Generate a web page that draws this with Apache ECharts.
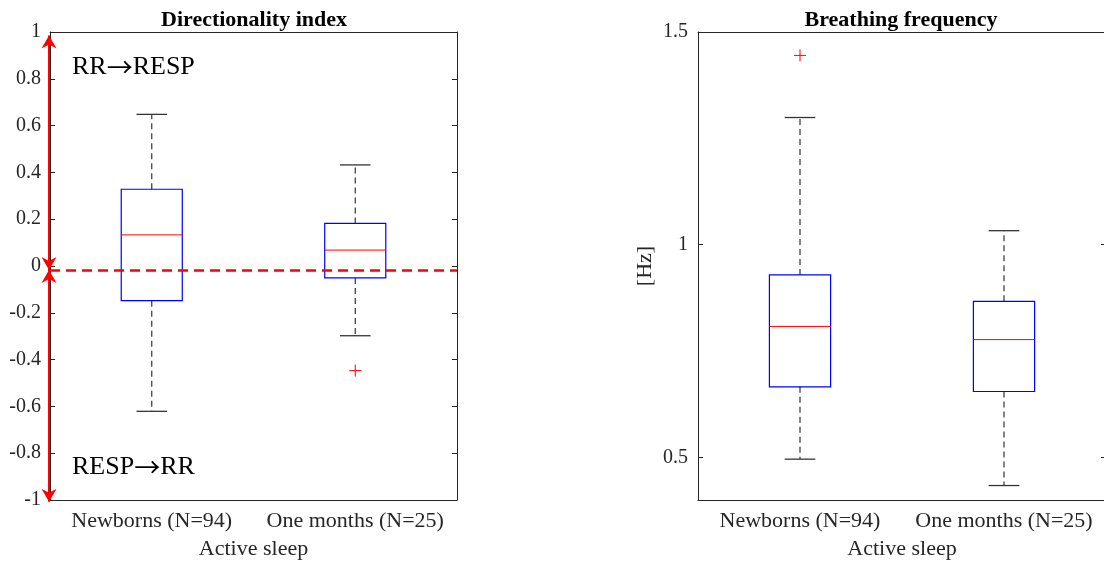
<!DOCTYPE html>
<html>
<head>
<meta charset="utf-8">
<script src="https://cdn.jsdelivr.net/npm/echarts@6/dist/echarts.min.js"></script>
<style>
  html, body { margin: 0; padding: 0; background: #fff; }
  #chart { width: 1104px; height: 562px; }
</style>
</head>
<body>
<div id="chart"></div>
<script>
// Groups on the horizontal axis
const categories = ['Newborns (N=94)', 'One months (N=25)'];

// Directionality index: five-number summaries per group
const diLower  = [-0.621, -0.298];
const diQ1     = [-0.148, -0.051];
const diMedian = [0.133, 0.068];
const diQ3     = [0.328, 0.182];
const diUpper  = [0.648, 0.432];
const diOutliers = [[1, -0.447]];   // [group index, value]

// Reference level and direction arrows of the index
const diThreshold = -0.017;
const diArrowSpans = [[-0.017, 0.985], [-0.017, -1.008]];
const diDirectionTexts = [[0.85, ['RR', 'RESP']], [-0.86, ['RESP', 'RR']]];

// Breathing frequency [Hz]: five-number summaries per group
const bfLower  = [0.496, 0.434];
const bfQ1     = [0.666, 0.655];
const bfMedian = [0.808, 0.777];
const bfQ3     = [0.929, 0.867];
const bfUpper  = [1.299, 1.033];
const bfOutliers = [[0, 1.445]];

// Tick values of the breathing frequency axis
const bfTicks = [0.5, 1, 1.5];

const FONT = "'Liberation Serif', 'Times New Roman', serif";
const AXIS_COLOR = '#262626';
const BOX_COLOR = '#0000ff';
const MEDIAN_COLOR = '#ff0000';
const WHISKER_COLOR = '#333333';

function boxData(lo, q1, med, q3, hi) {
  return categories.map((c, i) => [i, lo[i], q1[i], med[i], q3[i], hi[i]]);
}

function renderBox(params, api) {
  const i = api.value(0);
  const band = api.size([1, 0])[0];
  const pLo = api.coord([i, api.value(1)]);
  const pQ1 = api.coord([i, api.value(2)]);
  const pMed = api.coord([i, api.value(3)]);
  const pQ3 = api.coord([i, api.value(4)]);
  const pHi = api.coord([i, api.value(5)]);
  const x = pMed[0];
  const bw = band * 0.15;
  const cw = band * 0.075;
  const dash = { stroke: WHISKER_COLOR, lineWidth: 1.2, lineDash: [6, 4] };
  const cap = { stroke: WHISKER_COLOR, lineWidth: 1.3 };
  return {
    type: 'group',
    children: [
      { type: 'line', shape: { x1: x, y1: pQ3[1], x2: x, y2: pHi[1] }, style: dash },
      { type: 'line', shape: { x1: x, y1: pQ1[1], x2: x, y2: pLo[1] }, style: dash },
      { type: 'line', shape: { x1: x - cw, y1: pHi[1], x2: x + cw, y2: pHi[1] }, style: cap },
      { type: 'line', shape: { x1: x - cw, y1: pLo[1], x2: x + cw, y2: pLo[1] }, style: cap },
      { type: 'rect', shape: { x: x - bw, y: pQ3[1], width: 2 * bw, height: pQ1[1] - pQ3[1] },
        style: { fill: 'none', stroke: BOX_COLOR, lineWidth: 1.2 } },
      { type: 'line', shape: { x1: x - bw, y1: pMed[1], x2: x + bw, y2: pMed[1] },
        style: { stroke: MEDIAN_COLOR, lineWidth: 1 } }
    ]
  };
}

function renderOutlier(params, api) {
  const p = api.coord([api.value(0), api.value(1)]);
  const s = 6;
  const st = { stroke: MEDIAN_COLOR, lineWidth: 1 };
  return {
    type: 'group',
    children: [
      { type: 'line', shape: { x1: p[0] - s, y1: p[1], x2: p[0] + s, y2: p[1] }, style: st },
      { type: 'line', shape: { x1: p[0], y1: p[1] - s, x2: p[0], y2: p[1] + s }, style: st }
    ]
  };
}

// Arrowhead polygon with a notched back, tip at (x, y), pointing up (dir=-1) or down (dir=1)
function arrowHead(x, y, dir) {
  const len = 13, half = 7.5, notch = 9;
  return {
    type: 'polygon',
    shape: { points: [[x, y], [x - half, y - dir * len], [x, y - dir * notch], [x + half, y - dir * len]] },
    style: { fill: '#ff0000' }
  };
}

function renderArrow(params, api) {
  const band = api.size([1, 0])[0];
  const pA = api.coord([0, api.value(1)]);
  const pB = api.coord([0, api.value(2)]);
  const x = pA[0] - band / 2 - 1;
  const dirB = pB[1] < pA[1] ? -1 : 1;
  return {
    type: 'group',
    children: [
      { type: 'line', shape: { x1: x, y1: pA[1], x2: x, y2: pB[1] },
        style: { stroke: '#ff0000', lineWidth: 2 } },
      arrowHead(x, pA[1], -dirB),
      arrowHead(x, pB[1], dirB)
    ]
  };
}

function renderDirectionText(params, api) {
  const band = api.size([1, 0])[0];
  const p = api.coord([0, api.value(0)]);
  const pair = diDirectionTexts[params.dataIndex][1];
  return {
    type: 'text',
    style: {
      x: p[0] - band / 2 + 22, y: p[1],
      text: '{t|' + pair[0] + '}{a|\u2192}{t|' + pair[1] + '}',
      rich: {
        t: { fontFamily: FONT, fontSize: 26, fill: '#000' },
        a: { fontFamily: "'Noto Sans CJK SC', sans-serif", fontSize: 26, fill: '#000' }
      },
      verticalAlign: 'middle', align: 'left'
    }
  };
}

function catAxes(gridIndex) {
  return [
    {
      type: 'category', gridIndex, data: categories, position: 'bottom',
      axisLine: { onZero: false, lineStyle: { color: AXIS_COLOR, width: 1 } },
      axisTick: { alignWithLabel: true, inside: true, length: 5, lineStyle: { color: AXIS_COLOR } },
      axisLabel: { interval: 0, color: AXIS_COLOR, fontFamily: FONT, fontSize: 22, margin: 10 },
      name: 'Active sleep', nameLocation: 'middle', nameGap: 38,
      nameTextStyle: { color: AXIS_COLOR, fontFamily: FONT, fontSize: 22 }
    },
    {
      type: 'category', gridIndex, data: categories, position: 'top',
      axisLine: { onZero: false, lineStyle: { color: AXIS_COLOR, width: 1 } },
      axisTick: { alignWithLabel: true, inside: true, length: 5, lineStyle: { color: AXIS_COLOR } },
      axisLabel: { show: false }
    }
  ];
}

const option = {
  backgroundColor: '#fff',
  animation: false,
  title: [
    { text: 'Directionality index', left: 249, top: 4, textAlign: 'center',
      textStyle: { fontFamily: FONT, fontSize: 22, fontWeight: 'bold', color: '#000' } },
    { text: 'Breathing frequency', left: 896, top: 4, textAlign: 'center',
      textStyle: { fontFamily: FONT, fontSize: 22, fontWeight: 'bold', color: '#000' } }
  ],
  grid: [
    { left: 50, top: 32, width: 407, height: 468, outerBoundsMode: 'none', containLabel: false },
    { left: 698, top: 32, width: 408, height: 468, outerBoundsMode: 'none', containLabel: false }
  ],
  xAxis: [...catAxes(0), ...catAxes(1)],
  yAxis: [
    {
      type: 'value', gridIndex: 0, min: -1, max: 1, interval: 0.2, position: 'left',
      axisLine: { show: true, onZero: false, lineStyle: { color: AXIS_COLOR } },
      axisTick: { show: true, inside: true, length: 5, lineStyle: { color: AXIS_COLOR } },
      axisLabel: { color: AXIS_COLOR, fontFamily: FONT, fontSize: 20, margin: 9 },
      splitLine: { show: false }
    },
    {
      type: 'value', gridIndex: 0, min: -1, max: 1, interval: 0.2, position: 'right',
      axisLine: { show: true, onZero: false, lineStyle: { color: AXIS_COLOR } },
      axisTick: { show: true, inside: true, length: 5, lineStyle: { color: AXIS_COLOR } },
      axisLabel: { show: false }, splitLine: { show: false }
    },
    {
      type: 'value', gridIndex: 1, min: 0.4, max: 1.5, position: 'left',
      axisLine: { show: true, onZero: false, lineStyle: { color: AXIS_COLOR } },
      axisTick: { show: true, inside: true, length: 5, customValues: bfTicks, lineStyle: { color: AXIS_COLOR } },
      axisLabel: { color: AXIS_COLOR, fontFamily: FONT, fontSize: 20, margin: 10, customValues: bfTicks },
      splitLine: { show: false },
      name: '[Hz]', nameLocation: 'middle', nameGap: 42,
      nameTextStyle: { color: AXIS_COLOR, fontFamily: FONT, fontSize: 22 }
    },
    {
      type: 'value', gridIndex: 1, min: 0.4, max: 1.5, position: 'right',
      axisLine: { show: true, onZero: false, lineStyle: { color: AXIS_COLOR } },
      axisTick: { show: true, inside: true, length: 5, customValues: bfTicks, lineStyle: { color: AXIS_COLOR } },
      axisLabel: { show: false }, splitLine: { show: false }
    }
  ],
  series: [
    {
      type: 'custom', name: 'di-box', xAxisIndex: 0, yAxisIndex: 0,
      renderItem: renderBox, encode: { x: 0, y: [1, 2, 3, 4, 5] },
      data: boxData(diLower, diQ1, diMedian, diQ3, diUpper), z: 3,
      markLine: {
        silent: true, symbol: 'none', label: { show: false },
        lineStyle: { color: '#ff0000', width: 2.5, type: [10, 6] },
        data: [{ yAxis: diThreshold }]
      }
    },
    {
      type: 'custom', name: 'di-outliers', xAxisIndex: 0, yAxisIndex: 0,
      renderItem: renderOutlier, encode: { x: 0, y: 1 }, data: diOutliers, z: 4
    },
    {
      type: 'custom', name: 'di-arrows', xAxisIndex: 0, yAxisIndex: 0,
      renderItem: renderArrow, encode: { x: 0, y: [1, 2] },
      data: diArrowSpans.map(s => [0, s[0], s[1]]), z: 5
    },
    {
      type: 'custom', name: 'di-labels', xAxisIndex: 0, yAxisIndex: 0,
      renderItem: renderDirectionText, encode: { y: 0 },
      data: diDirectionTexts.map(t => [t[0]]), z: 5
    },
    {
      type: 'custom', name: 'bf-box', xAxisIndex: 2, yAxisIndex: 2,
      renderItem: renderBox, encode: { x: 0, y: [1, 2, 3, 4, 5] },
      data: boxData(bfLower, bfQ1, bfMedian, bfQ3, bfUpper), z: 3
    },
    {
      type: 'custom', name: 'bf-outliers', xAxisIndex: 2, yAxisIndex: 2,
      renderItem: renderOutlier, encode: { x: 0, y: 1 }, data: bfOutliers, z: 4
    }
  ]
};

const chart = echarts.init(document.getElementById('chart'), null, { renderer: 'canvas' });
chart.setOption(option);
</script>
</body>
</html>
